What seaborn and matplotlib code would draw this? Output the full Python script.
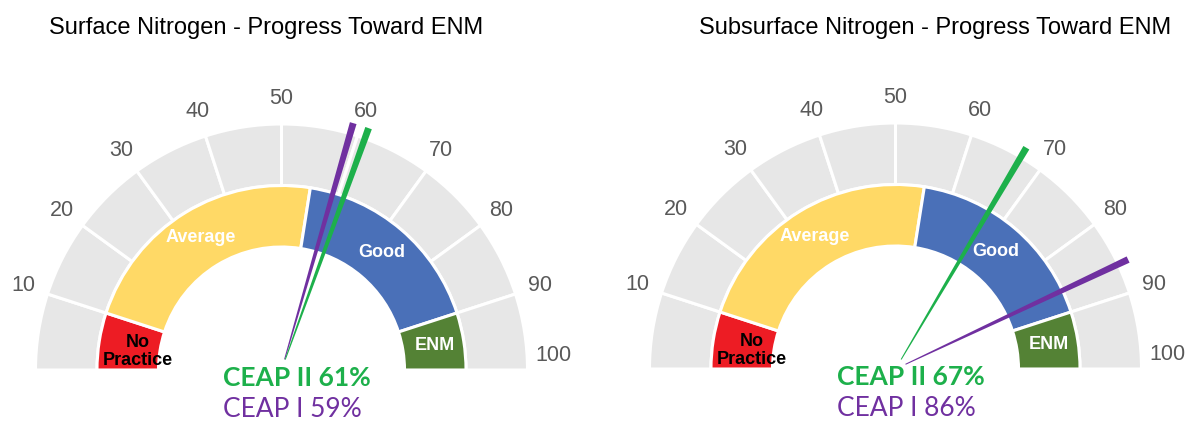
import numpy as np
import matplotlib
matplotlib.use("Agg")
import matplotlib.pyplot as plt
from matplotlib.patches import Wedge, Polygon
import seaborn as sns

# ---- data -------------------------------------------------------------
titles = ["Surface Nitrogen - Progress Toward ENM",
          "Subsurface Nitrogen - Progress Toward ENM"]
scale_ticks = [10, 20, 30, 40, 50, 60, 70, 80, 90, 100]
band_names = ["No\nPractice", "Average", "Good", "ENM"]
band_edges = [0, 10, 55, 90, 100]
ceap2 = [61, 67]
ceap1 = [59, 86]

# ---- style ------------------------------------------------------------
sns.set_theme(style="white")
plt.rcParams["font.family"] = ["Liberation Sans", "DejaVu Sans"]

band_colors = ["#ED1C24", "#FFD966", "#4A70B8", "#548235"]
band_text = ["black", "white", "white", "white"]
ring_grey = "#E7E7E7"
tick_grey = "#595959"
green = "#1DB04B"
purple = "#7030A0"

W, H = 1191, 423
fig = plt.figure(figsize=(W / 100, H / 100), dpi=100)
R_PX = 246.0  # gauge radius in pixels

# gauge centres (pixels from left / from bottom) and the panel each lives in
centres = [(281.5, 53.0), (895.5, 54.0)]
panels = [(0.0, 595.5), (595.5, 1191.0)]


def val2ang(v):
    """Gauge value (0-100) -> angle in degrees, 0 at the right."""
    return 180.0 - 1.8 * v


def needle(ax, value, color, r0=0.045, r1=1.045, w0=0.002, w1=0.014):
    t = np.deg2rad(val2ang(value))
    d = np.array([np.cos(t), np.sin(t)])
    n = np.array([-np.sin(t), np.cos(t)])
    p0, p1 = r0 * d, r1 * d
    pts = [p0 - n * w0, p1 - n * w1, p1 + n * w1, p0 + n * w0]
    ax.add_patch(Polygon(pts, closed=True, facecolor=color,
                         edgecolor="none", zorder=5))


for i in range(2):
    cx, cy = centres[i]
    x0, x1 = panels[i]
    ax = fig.add_axes([x0 / W, 0, (x1 - x0) / W, 1])
    ax.set_xlim((x0 - cx) / R_PX, (x1 - cx) / R_PX)
    ax.set_ylim((0 - cy) / R_PX, (H - cy) / R_PX)
    ax.set_axis_off()

    # outer grey scale ring: one segment per 10 units
    for lo in range(0, 100, 10):
        ax.add_patch(Wedge((0, 0), 1.0, val2ang(lo + 10), val2ang(lo),
                           width=0.25, facecolor=ring_grey,
                           edgecolor="white", linewidth=2.2, zorder=1))

    # inner coloured performance bands
    for j, name in enumerate(band_names):
        lo, hi = band_edges[j], band_edges[j + 1]
        ax.add_patch(Wedge((0, 0), 0.75, val2ang(hi), val2ang(lo),
                           width=0.25, facecolor=band_colors[j],
                           edgecolor="white", linewidth=2.2, zorder=2))
        mid = np.deg2rad(val2ang((lo + hi) / 2))
        r = 0.6 if j == 0 else 0.63
        dy = -0.02 if j == 0 else 0.0
        ax.text(r * np.cos(mid) + 0.01 * (j == 0), r * np.sin(mid) + dy, name,
                ha="center", va="center", fontsize=13, fontweight="bold",
                color=band_text[j], linespacing=1.1, zorder=6)

    # scale numbers around the outside
    for v in scale_ticks:
        t = np.deg2rad(val2ang(v))
        tx, ty = 1.105 * np.cos(t), max(1.105 * np.sin(t), 0.06)
        ax.text(tx, ty, str(v), ha="center", va="center",
                fontsize=15.5, color=tick_grey)

    # needles
    needle(ax, ceap1[i], purple)
    needle(ax, ceap2[i], green)

    # value captions
    ax.text(-0.238, -0.066, f"CEAP II {ceap2[i]}%", ha="left",
            va="baseline", fontsize=19, fontweight="bold", color=green,
            family=["Lato", "DejaVu Sans"])
    ax.text(-0.238, -0.19, f"CEAP I {ceap1[i]}%", ha="left",
            va="baseline", fontsize=19, color=purple,
            family=["Lato", "DejaVu Sans"])

    # panel title
    tx_px = [266.0, 935.0][i]
    ax.text((tx_px - cx) / R_PX, (H - 28 - cy) / R_PX, titles[i],
            ha="center", va="center", fontsize=17, color="black")

fig.savefig("out.png", dpi=100)
